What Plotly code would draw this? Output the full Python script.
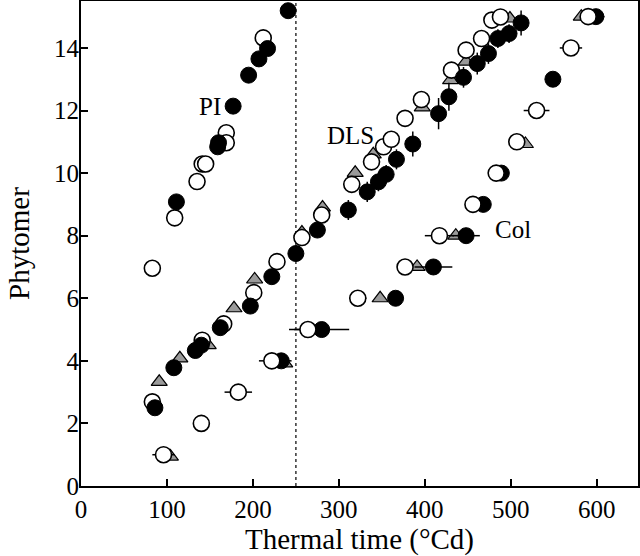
import plotly.graph_objects as go

# PI group
pi_open_x = [83, 109, 135, 141, 145, 169, 169, 212]
pi_open_y = [6.96, 8.57, 9.73, 10.29, 10.29, 11.29, 10.97, 14.32]
pi_fill_x = [111, 159, 160, 177, 195, 207, 217, 241]
pi_fill_y = [9.08, 10.84, 10.97, 12.14, 13.13, 13.65, 13.98, 15.19]

# DLS group
dls_open_x = [83, 141, 166, 201, 228, 257, 280, 315, 338, 352, 361, 377, 396, 431, 448, 466, 478, 488]
dls_open_y = [2.69, 4.66, 5.18, 6.18, 7.17, 7.94, 8.66, 9.64, 10.36, 10.84, 11.08, 11.75, 12.35, 13.29, 13.93, 14.30, 14.89, 14.99]
dls_tri_x = [91, 115, 148, 178, 202, 257, 281, 319, 340, 397, 430, 448, 499]
dls_tri_y = [3.33, 4.08, 4.50, 5.68, 6.60, 8.10, 8.90, 10.01, 10.60, 12.10, 12.97, 13.56, 14.94]
dls_fill_x = [86, 108, 133, 140, 162, 197, 222, 250, 275, 311, 333, 346, 355, 367, 386, 416, 428, 445, 461, 474, 485, 498, 512]
dls_fill_y = [2.50, 3.78, 4.33, 4.50, 5.06, 5.75, 6.69, 7.43, 8.18, 8.82, 9.40, 9.72, 9.96, 10.44, 10.93, 11.90, 12.44, 13.06, 13.50, 13.82, 14.30, 14.46, 14.80]
dls_fill_err = [0.1, 0.1, 0.1, 0.1, 0.1, 0.1, 0.1, 0.1, 0.2, 0.32, 0.32, 0.3, 0.3, 0.32, 0.4, 0.5, 0.45, 0.33, 0.35, 0.33, 0.3, 0.3, 0.4]

# Col group
col_open_x = [96, 140, 183, 222, 264, 322, 377, 417, 456, 483, 507, 530, 570, 590]
col_open_y = [1, 2, 3, 4, 5, 6, 7, 8, 9, 10, 11, 12, 14, 15]
col_open_err = [13, 8, 16, 15, 22, 10, 0, 17, 0, 0, 0, 15, 13, 0]
col_tri_x = [104, 237, 348, 391, 436, 517, 582]
col_tri_y = [0.94, 3.92, 6.0, 7.0, 8.0, 10.93, 15.0]
col_fill_x = [233, 280, 366, 410, 448, 468, 489, 549, 599]
col_fill_y = [4, 5, 6, 7, 8, 9, 10, 13, 15]
col_fill_err = [12, 32, 0, 22, 16, 0, 0, 0, 10]

FONT = "Liberation Serif, Times New Roman, serif"
GREY = "#9a9a9a"

open_mk = dict(symbol="circle", size=16, color="white", line=dict(color="black", width=1.6))
fill_mk = dict(symbol="circle", size=16, color="black", line=dict(color="black", width=1))
tri_mk = dict(symbol="triangle-up", size=14, color=GREY, line=dict(color="black", width=1.2))
bar = dict(color="black", thickness=1.5, width=0)

fig = go.Figure([
    # PI
    go.Scatter(x=pi_open_x, y=pi_open_y, mode="markers", marker=open_mk),
    go.Scatter(x=pi_fill_x, y=pi_fill_y, mode="markers", marker=fill_mk),
    # DLS
    go.Scatter(x=dls_tri_x, y=dls_tri_y, mode="markers", marker=tri_mk),
    go.Scatter(x=dls_open_x, y=dls_open_y, mode="markers", marker=open_mk),
    go.Scatter(x=dls_fill_x, y=dls_fill_y, mode="markers", marker=fill_mk,
               error_y=dict(type="data", array=dls_fill_err, **bar)),
    # Col
    go.Scatter(x=col_tri_x, y=col_tri_y, mode="markers", marker=tri_mk),
    go.Scatter(x=col_fill_x, y=col_fill_y, mode="markers", marker=fill_mk,
               error_x=dict(type="data", array=col_fill_err, **bar)),
    go.Scatter(x=col_open_x, y=col_open_y, mode="markers", marker=open_mk,
               error_x=dict(type="data", array=col_open_err, **bar)),
])

fig.add_shape(type="line", xref="x", yref="paper", x0=250, x1=250, y0=0, y1=1,
              line=dict(color="#333", width=1.5, dash="dot"), layer="below")

for txt, tx, ty in [("PI", 150, 12.14), ("DLS", 314, 11.21), ("Col", 502, 8.2)]:
    fig.add_annotation(x=tx, y=ty, text=txt, showarrow=False,
                       font=dict(family=FONT, size=25, color="black"))

fig.update_layout(
    width=640, height=556,
    margin=dict(l=81, r=2, t=1, b=70, pad=0),
    plot_bgcolor="white", paper_bgcolor="white",
    showlegend=False,
    font=dict(family=FONT, size=24, color="black"),
)
fig.update_xaxes(range=[0, 648], tickvals=[0, 100, 200, 300, 400, 500, 600],
                 ticks="inside", ticklen=7, tickwidth=1.5, tickcolor="black",
                 showline=True, linecolor="black", linewidth=2, mirror=True,
                 showgrid=False, zeroline=False, automargin=False,
                 tickfont=dict(size=25),
                 title=dict(text="Thermal time (°Cd)", standoff=4))
fig.update_yaxes(range=[0, 15.5], tickvals=[0, 2, 4, 6, 8, 10, 12, 14],
                 ticks="inside", ticklen=7, tickwidth=1.5, tickcolor="black",
                 showline=True, linecolor="black", linewidth=2, mirror=True,
                 showgrid=False, zeroline=False, automargin=False,
                 tickfont=dict(size=25), ticklabelstandoff=-5,
                 title=dict(text="Phytomer", standoff=16))

# page body has a default 8px margin; drop it so the figure sits at the corner
fig.write_html("out.html", config={"displayModeBar": False},
               post_script="document.body.style.margin='0';")
